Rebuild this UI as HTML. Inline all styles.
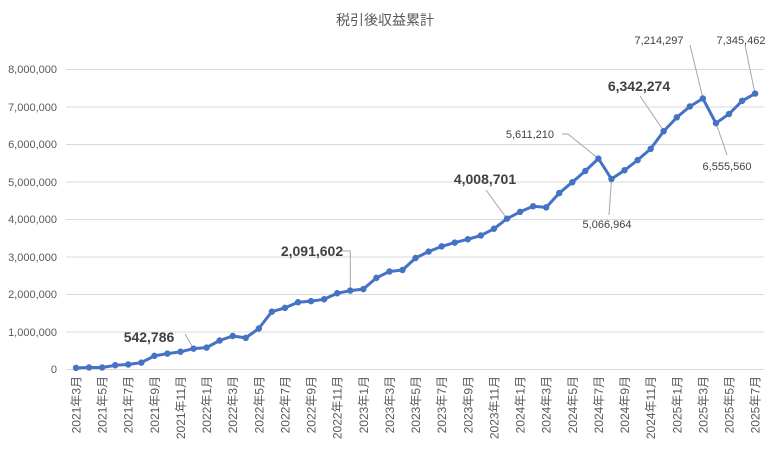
<!DOCTYPE html>
<html><head><meta charset="utf-8"><style>
html,body{margin:0;padding:0;background:#fff}
svg{display:block}
text{font-family:"Liberation Sans","Noto Sans CJK JP",sans-serif}
</style></head><body>
<svg id="c" width="770" height="450" viewBox="0 0 770 450" xmlns="http://www.w3.org/2000/svg">
<rect width="770" height="450" fill="#fff"/>
<text x="385" y="25" text-anchor="middle" font-size="14" fill="#595959">税引後収益累計</text>
<g stroke="#d9d9d9" stroke-width="1">
<line x1="66" x2="764" y1="69.5" y2="69.5"/><line x1="66" x2="764" y1="107" y2="107"/>
<line x1="66" x2="764" y1="144.5" y2="144.5"/><line x1="66" x2="764" y1="182" y2="182"/>
<line x1="66" x2="764" y1="219.5" y2="219.5"/><line x1="66" x2="764" y1="257" y2="257"/>
<line x1="66" x2="764" y1="294.5" y2="294.5"/><line x1="66" x2="764" y1="332" y2="332"/>
<line x1="66" x2="764" y1="369.5" y2="369.5"/>
</g>
<g font-size="11" fill="#595959" text-anchor="end">
<text x="57" y="73">8,000,000</text><text x="57" y="111">7,000,000</text>
<text x="57" y="148">6,000,000</text><text x="57" y="186">5,000,000</text>
<text x="57" y="223">4,000,000</text><text x="57" y="261">3,000,000</text>
<text x="57" y="298">2,000,000</text><text x="57" y="336">1,000,000</text>
<text x="57" y="373">0</text>
</g>
<g id="xl" font-size="12" fill="#595959" text-anchor="end"></g>
<g stroke="#a6a6a6" stroke-width="1" fill="none">
<polyline points="185,334 193.5,348.6"/>
<polyline points="342,251 350.3,251 350.3,290.6"/>
<polyline points="486,190 507,218.7"/>
<polyline points="562,134 568,134 598.4,158.6"/>
<polyline points="611.5,179 609,215"/>
<polyline points="640,96 663.7,131"/>
<polyline points="690,45 703,98.5"/>
<polyline points="716,123 727,155"/>
<polyline points="745,45 755,93.6"/>
</g>
<g id="ser"></g>
<g font-size="14" font-weight="bold" fill="#404040" text-anchor="middle">
<text x="149" y="342">542,786</text>
<text x="312" y="256">2,091,602</text>
<text x="485" y="184">4,008,701</text>
<text x="639" y="91">6,342,274</text>
</g>
<g font-size="11" fill="#404040" text-anchor="middle">
<text x="554" y="138" text-anchor="end">5,611,210</text>
<text x="607" y="228">5,066,964</text>
<text x="659" y="44">7,214,297</text>
<text x="727" y="170">6,555,560</text>
<text x="741" y="44">7,345,462</text>
</g>
</svg>
<script>
var v=[0.03,0.04,0.04,0.1,0.12,0.17,0.35,0.41,0.46,0.543,0.57,0.76,0.88,0.83,1.08,1.53,1.63,1.78,1.81,1.86,2.02,2.092,2.13,2.43,2.6,2.64,2.96,3.13,3.27,3.37,3.46,3.56,3.74,4.009,4.19,4.34,4.31,4.69,4.98,5.28,5.611,5.067,5.3,5.57,5.87,6.342,6.71,7.0,7.214,6.556,6.8,7.15,7.345];
var ns="http://www.w3.org/2000/svg",s=document.getElementById("ser"),xl=document.getElementById("xl");
var pts=[];
for(var i=0;i<v.length;i++){pts.push((76+i*13.06).toFixed(1)+","+(369-v[i]*37.5).toFixed(1));}
var pl=document.createElementNS(ns,"polyline");pl.setAttribute("points",pts.join(" "));pl.setAttribute("fill","none");pl.setAttribute("stroke","#4472C4");pl.setAttribute("stroke-width","3");pl.setAttribute("stroke-linejoin","round");s.appendChild(pl);
for(var i=0;i<v.length;i++){var c=document.createElementNS(ns,"circle");c.setAttribute("cx",76+i*13.06);c.setAttribute("cy",369-v[i]*37.5);c.setAttribute("r","3.2");c.setAttribute("fill","#4472C4");s.appendChild(c);}
for(var i=0;i<v.length;i+=2){var m=3+i,y=2021+Math.floor((m-1)/12),mo=(m-1)%12+1;var x=76+i*13.06+4.5;var t=document.createElementNS(ns,"text");t.setAttribute("transform","translate("+x+",376) rotate(-90)");t.textContent=y+"年"+mo+"月";xl.appendChild(t);}
</script>
</body></html>
